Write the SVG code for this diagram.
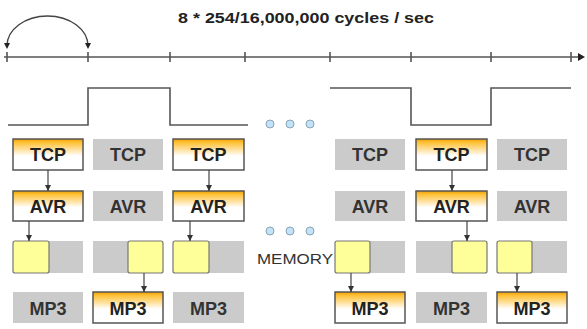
<svg xmlns="http://www.w3.org/2000/svg" width="587" height="329" viewBox="0 0 587 329">
  <defs>
    <linearGradient id="stage" x1="0" y1="0" x2="0" y2="1">
      <stop offset="0" stop-color="#f0a000"/>
      <stop offset="0.12" stop-color="#ffc23a"/>
      <stop offset="0.55" stop-color="#ffffff"/>
      <stop offset="1" stop-color="#ffffff"/>
    </linearGradient>
    <marker id="tip" viewBox="0 0 8 8" refX="8" refY="4" markerWidth="5" markerHeight="5" orient="auto">
      <path d="M0,0 L8,4 L0,8 z" fill="#333"/>
    </marker>
  </defs>
  <style>
    .active rect { fill: url(#stage); stroke: #555; stroke-width: 1.5; }
    .idle rect { fill: #cbcbcb; }
    .lbl { font-family: "Liberation Sans", Arial, sans-serif; font-weight: bold; font-size: 18px; fill: #222; text-anchor: middle; }
    .idle .lbl { fill: #333; }
    .mem { fill: #cbcbcb; }
    .buf { fill: #ffff99; stroke: #777; stroke-width: 1.2; }
    .wire { fill: none; stroke: #444; stroke-width: 1.2; marker-end: url(#tip); }
    .axis { fill: none; stroke: #555; stroke-width: 1.6; }
    .dot { fill: #c2e2f7; stroke: #8aa3b5; stroke-width: 1; }
  </style>

  <rect width="587" height="329" fill="#ffffff"/>

  <!-- title -->
  <text x="306" y="23" font-family="'Liberation Sans', Arial, sans-serif" font-weight="bold" font-size="15.5" fill="#222" text-anchor="middle" textLength="256" lengthAdjust="spacingAndGlyphs">8 * 254/16,000,000 cycles / sec</text>

  <!-- time axis with ticks -->
  <g id="timeline">
    <line class="axis" x1="4" y1="57" x2="580" y2="57"/>
    <path d="M578,53 L585,57 L578,61 z" fill="#222"/>
    <path class="axis" d="M7,52V62 M88,52V62 M170,52V62 M245,52V62 M330,52V62 M411,52V62 M491,52V62 M571,52V62"/>
    <!-- period arc -->
    <path d="M7,46 A40.5,30 0 0 1 88,46" fill="none" stroke="#444" stroke-width="1.4"/>
    <path d="M4,43 L10,43 L7,49 z M85,43 L91,43 L88,49 z" fill="#222"/>
  </g>

  <!-- clock waveform -->
  <g id="waveform">
    <path class="axis" d="M8,125 H88 V88 H170 V125 H248"/>
    <path class="axis" d="M330,88 H411 V125 H491 V88 H571"/>
  </g>

  <!-- ellipsis dots -->
  <g id="ellipsis">
    <circle class="dot" cx="270" cy="124" r="4"/>
    <circle class="dot" cx="290" cy="124" r="4"/>
    <circle class="dot" cx="310" cy="124" r="4"/>
    <circle class="dot" cx="270" cy="231" r="4"/>
    <circle class="dot" cx="290" cy="231" r="4"/>
    <circle class="dot" cx="310" cy="231" r="4"/>
  </g>
  <text x="257" y="264" font-family="'Liberation Sans', Arial, sans-serif" font-size="15.5" fill="#333" textLength="76" lengthAdjust="spacingAndGlyphs">MEMORY</text>

  <!-- column 1 -->
  <g id="tcp1" class="active"><rect x="13" y="139" width="70" height="31"/><text class="lbl" x="48" y="161">TCP</text></g>
  <g id="avr1" class="active"><rect x="13" y="191" width="70" height="30"/><text class="lbl" x="48" y="212.5">AVR</text></g>
  <g id="mem1"><rect class="mem" x="13" y="241" width="70" height="32"/><rect class="buf" x="13" y="241" width="36" height="32" rx="2"/></g>
  <g id="mp31" class="idle"><rect x="13" y="292" width="70" height="31"/><text class="lbl" x="48" y="314.5">MP3</text></g>

  <!-- column 2 -->
  <g id="tcp2" class="idle"><rect x="93" y="139" width="70" height="31"/><text class="lbl" x="128" y="161">TCP</text></g>
  <g id="avr2" class="idle"><rect x="93" y="191" width="70" height="30"/><text class="lbl" x="128" y="212.5">AVR</text></g>
  <g id="mem2"><rect class="mem" x="93" y="241" width="70" height="32"/><rect class="buf" x="128" y="241" width="35" height="32" rx="2"/></g>
  <g id="mp32" class="active"><rect x="93" y="292" width="70" height="31"/><text class="lbl" x="128" y="314.5">MP3</text></g>

  <!-- column 3 -->
  <g id="tcp3" class="active"><rect x="173" y="139" width="71" height="31"/><text class="lbl" x="208.5" y="161">TCP</text></g>
  <g id="avr3" class="active"><rect x="173" y="191" width="71" height="30"/><text class="lbl" x="208.5" y="212.5">AVR</text></g>
  <g id="mem3"><rect class="mem" x="173" y="241" width="71" height="32"/><rect class="buf" x="173" y="241" width="36" height="32" rx="2"/></g>
  <g id="mp33" class="idle"><rect x="173" y="292" width="71" height="31"/><text class="lbl" x="208.5" y="314.5">MP3</text></g>

  <!-- column 4 -->
  <g id="tcp4" class="idle"><rect x="335" y="139" width="70" height="31"/><text class="lbl" x="370" y="161">TCP</text></g>
  <g id="avr4" class="idle"><rect x="335" y="191" width="70" height="30"/><text class="lbl" x="370" y="212.5">AVR</text></g>
  <g id="mem4"><rect class="mem" x="335" y="241" width="70" height="32"/><rect class="buf" x="335" y="241" width="35" height="32" rx="2"/></g>
  <g id="mp34" class="active"><rect x="335" y="292" width="70" height="31"/><text class="lbl" x="370" y="314.5">MP3</text></g>

  <!-- column 5 -->
  <g id="tcp5" class="active"><rect x="416" y="139" width="71" height="31"/><text class="lbl" x="451.5" y="161">TCP</text></g>
  <g id="avr5" class="active"><rect x="416" y="191" width="71" height="30"/><text class="lbl" x="451.5" y="212.5">AVR</text></g>
  <g id="mem5"><rect class="mem" x="416" y="241" width="71" height="32"/><rect class="buf" x="452" y="241" width="35" height="32" rx="2"/></g>
  <g id="mp35" class="idle"><rect x="416" y="292" width="71" height="31"/><text class="lbl" x="451.5" y="314.5">MP3</text></g>

  <!-- column 6 -->
  <g id="tcp6" class="idle"><rect x="497" y="139" width="70" height="31"/><text class="lbl" x="532" y="161">TCP</text></g>
  <g id="avr6" class="idle"><rect x="497" y="191" width="70" height="30"/><text class="lbl" x="532" y="212.5">AVR</text></g>
  <g id="mem6"><rect class="mem" x="497" y="241" width="70" height="32"/><rect class="buf" x="497" y="241" width="35" height="32" rx="2"/></g>
  <g id="mp36" class="active"><rect x="497" y="292" width="70" height="31"/><text class="lbl" x="532" y="314.5">MP3</text></g>

  <!-- data flow arrows -->
  <g id="connectors">
    <line class="wire" x1="48" y1="170" x2="48" y2="191"/>
    <line class="wire" x1="29" y1="221" x2="29" y2="241"/>
    <line class="wire" x1="144" y1="273" x2="144" y2="292"/>
    <line class="wire" x1="209" y1="170" x2="209" y2="191"/>
    <line class="wire" x1="190" y1="221" x2="190" y2="241"/>
    <line class="wire" x1="351" y1="273" x2="351" y2="292"/>
    <line class="wire" x1="452" y1="170" x2="452" y2="191"/>
    <line class="wire" x1="467" y1="221" x2="467" y2="241"/>
    <line class="wire" x1="517" y1="273" x2="517" y2="292"/>
  </g>
</svg>
